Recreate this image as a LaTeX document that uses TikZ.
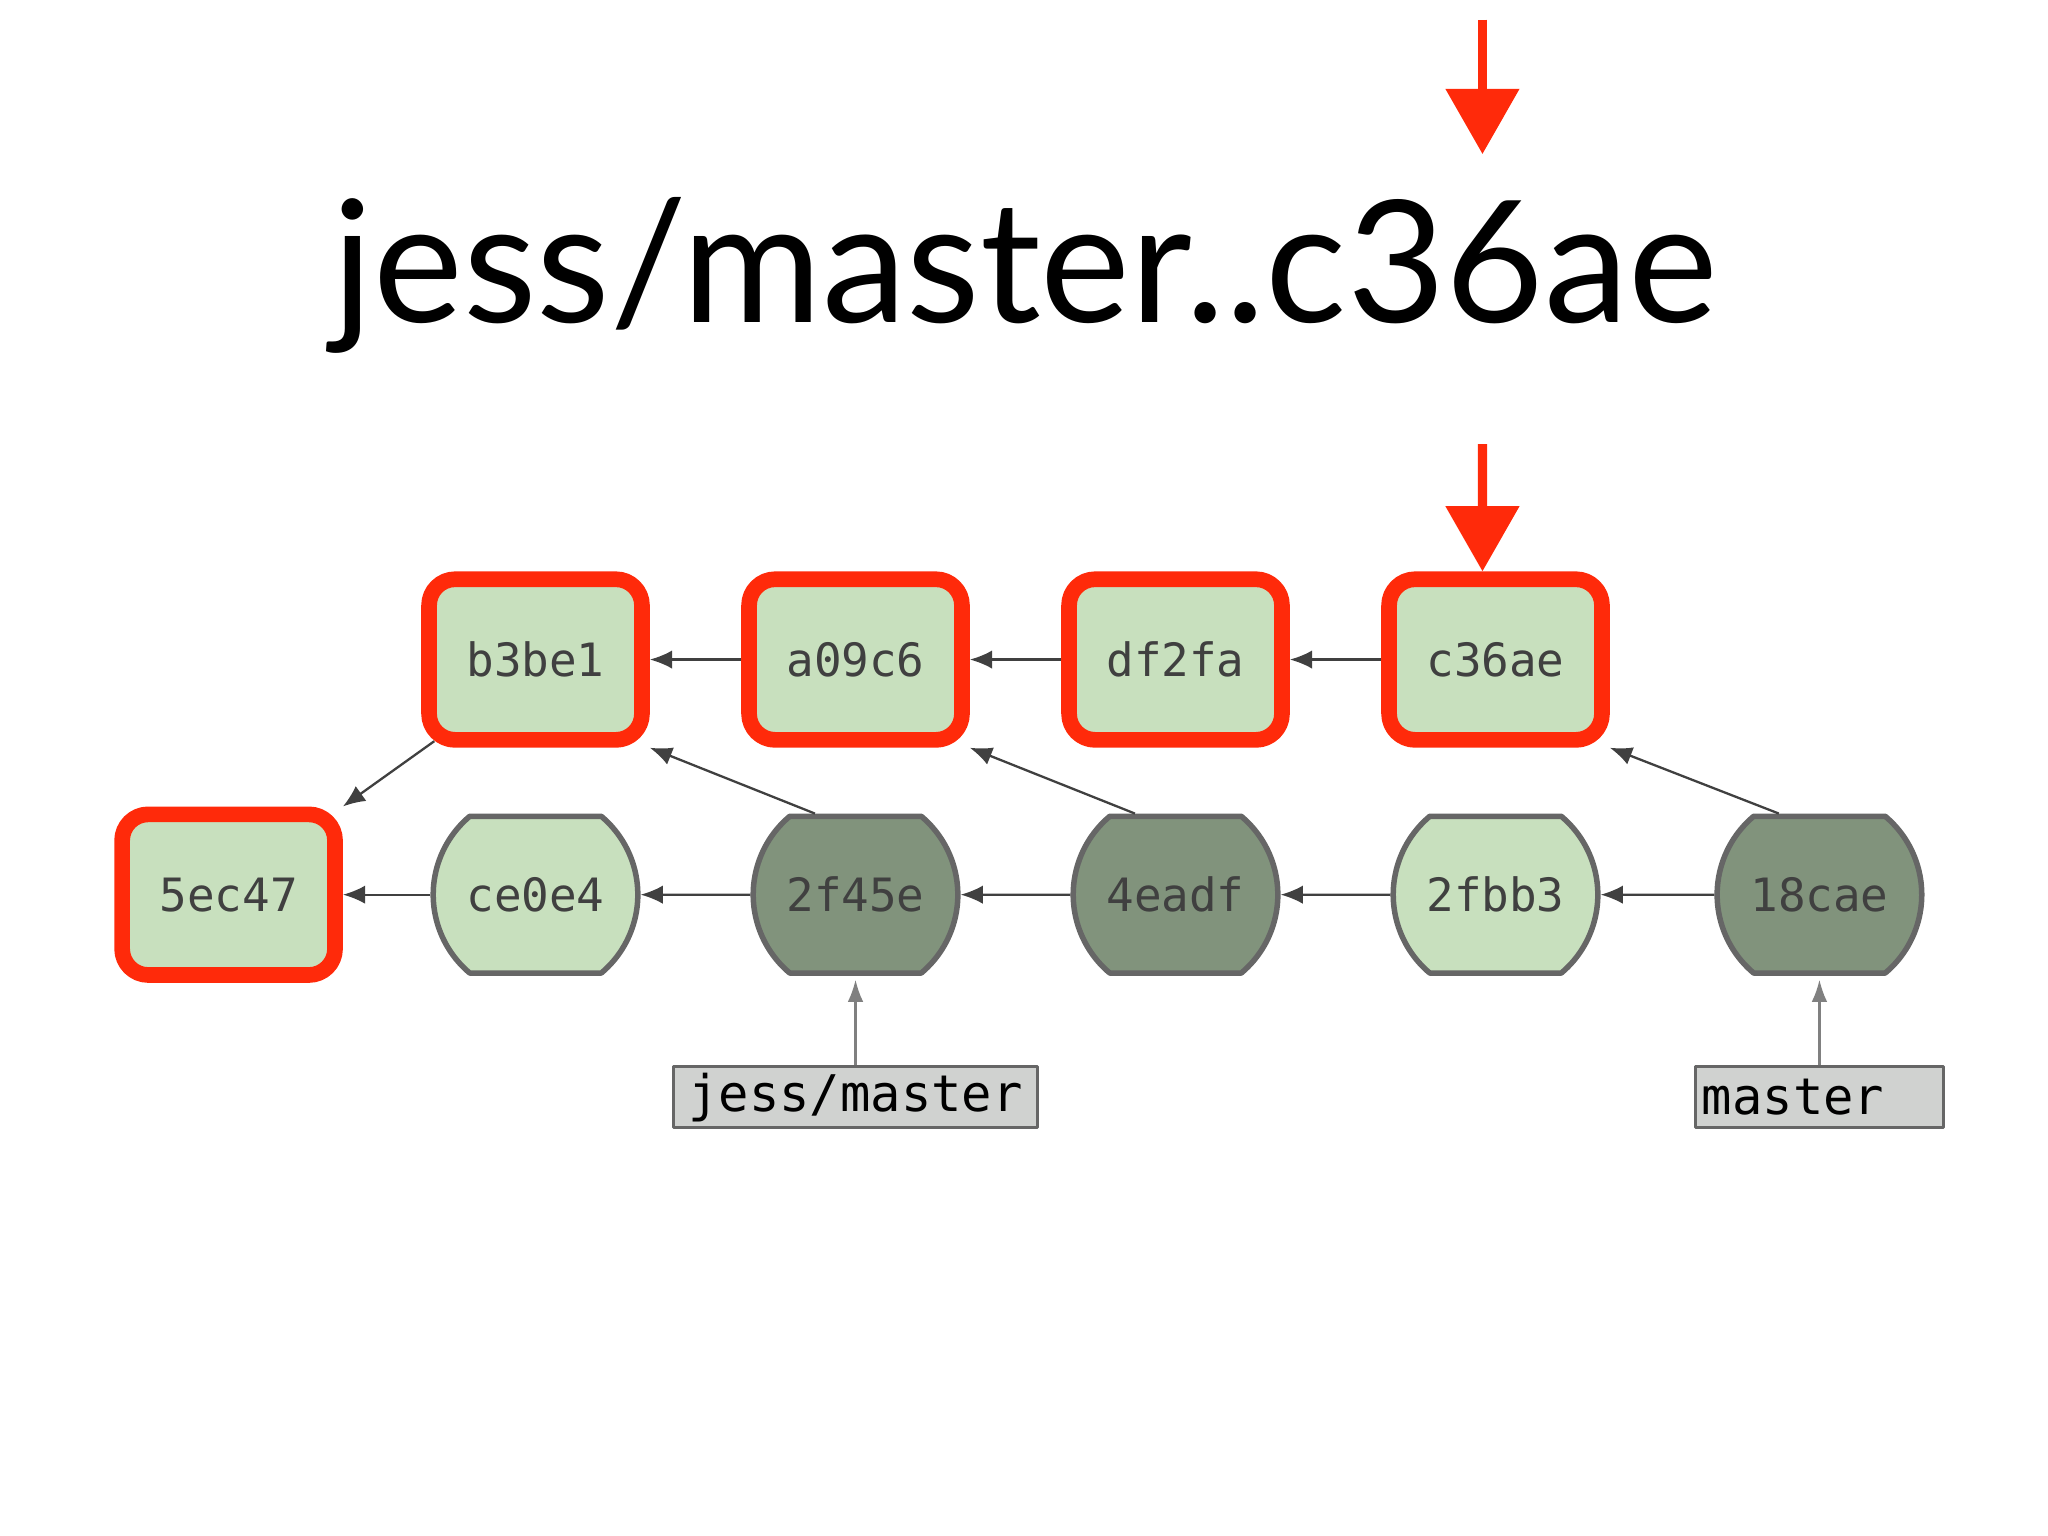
\documentclass[tikz,border=0pt]{standalone}
\usepackage{fontspec}
\setmainfont{Lato}
\newfontfamily\hashfont{DejaVu Sans Mono}
\usetikzlibrary{arrows.meta,positioning,shapes.misc}
\definecolor{commitlight}{HTML}{C8E0BE}
\definecolor{commitdark}{HTML}{81937C}
\definecolor{selred}{HTML}{FF2A0A}
\definecolor{edgegray}{HTML}{666666}
\definecolor{refgray}{HTML}{D0D2D0}

\begin{document}
\begin{tikzpicture}[font=\hashfont\fontsize{10pt}{12pt}\selectfont,
	every path/.style={line join=round},
	commit/.style={rounded rectangle,rounded rectangle arc length=100,draw=edgegray,line width=1.2pt,fill=commitlight,minimum width=1.7cm,minimum height=1.2cm,text=black!75},
	dark/.style={fill=commitdark},
	sel/.style={rectangle,rounded corners=0.2cm,draw=selred,line width=0.12cm,minimum width=1.63cm,minimum height=1.23cm,fill=commitlight,text=black!75},
	refbox/.style={draw=edgegray,line width=0.6pt,fill=refgray,minimum height=0.47cm,inner sep=0pt,font=\hashfont\fontsize{11pt}{12pt}\selectfont},
	parent/.style={draw=black!75,line width=0.5pt,-{Latex[length=0.17cm,width=0.14cm]}},
	refarrow/.style={draw=gray,line width=0.5pt,-{Latex[length=0.17cm,width=0.12cm]}},
	pick/.style={draw=selred,line width=0.07cm,-{Triangle[length=0.5cm,width=0.55cm]}}]
	\useasboundingbox (0,0) rectangle (15.68,11.76);

	\node (title) at (7.85,9.65) {\rmfamily\fontsize{37pt}{40pt}\selectfont jess/master..c36ae};

	% first row
	\node[sel] (b3be1) at (4.10,6.71) {b3be1};
	\node[sel] (a09c6) at (6.55,6.71) {a09c6};
	\node[sel] (df2fa) at (9.00,6.71) {df2fa};
	\node[sel] (c36ae) at (11.45,6.71) {c36ae};

	% second row
	\node[sel] (5ec47) at (1.75,4.91) {5ec47};
	\node[commit] (ce0e4) at (4.10,4.91) {ce0e4};
	\node[commit,dark] (2f45e) at (6.55,4.91) {2f45e};
	\node[commit,dark] (4eadf) at (9.00,4.91) {4eadf};
	\node[commit] (2fbb3) at (11.45,4.91) {2fbb3};
	\node[commit,dark] (18cae) at (13.93,4.91) {18cae};

	% refs
	\node[refbox,minimum width=2.79cm] (jess) at (6.55,3.36) {jess/master};
	\node[refbox,minimum width=1.9cm,text width=1.8cm,align=left] (master) at (13.93,3.36) {master};

	\draw[parent] (a09c6) -- (b3be1);
	\draw[parent] (df2fa) -- (a09c6);
	\draw[parent] (c36ae) -- (df2fa);
	\draw[parent] (ce0e4) -- (5ec47);
	\draw[parent] (2f45e) -- (ce0e4);
	\draw[parent] (4eadf) -- (2f45e);
	\draw[parent] (2fbb3) -- (4eadf);
	\draw[parent] (18cae) -- (2fbb3);
	\draw[parent] (b3be1.south west) ++(0.1,0.05) -- (5ec47.north east);
	\draw[parent] (2f45e.north west) ++(0.2,0) -- (b3be1.south east);
	\draw[parent] (4eadf.north west) ++(0.2,0) -- (a09c6.south east);
	\draw[parent] (18cae.north west) ++(0.2,0) -- (c36ae.south east);
	\draw[refarrow] (jess) -- ([yshift=-0.03cm]2f45e.south);
	\draw[refarrow] (master) -- ([yshift=-0.03cm]18cae.south);

	\coordinate (pickA) at (11.35,11.61);
	\coordinate (pickB) at (11.35,10.58);
	\coordinate (pickC) at (11.35,8.36);
	\draw[pick] (pickA) -- (pickB);
	\draw[pick] (pickC) -- ([xshift=-0.1cm]c36ae.north);
\end{tikzpicture}
\end{document}
